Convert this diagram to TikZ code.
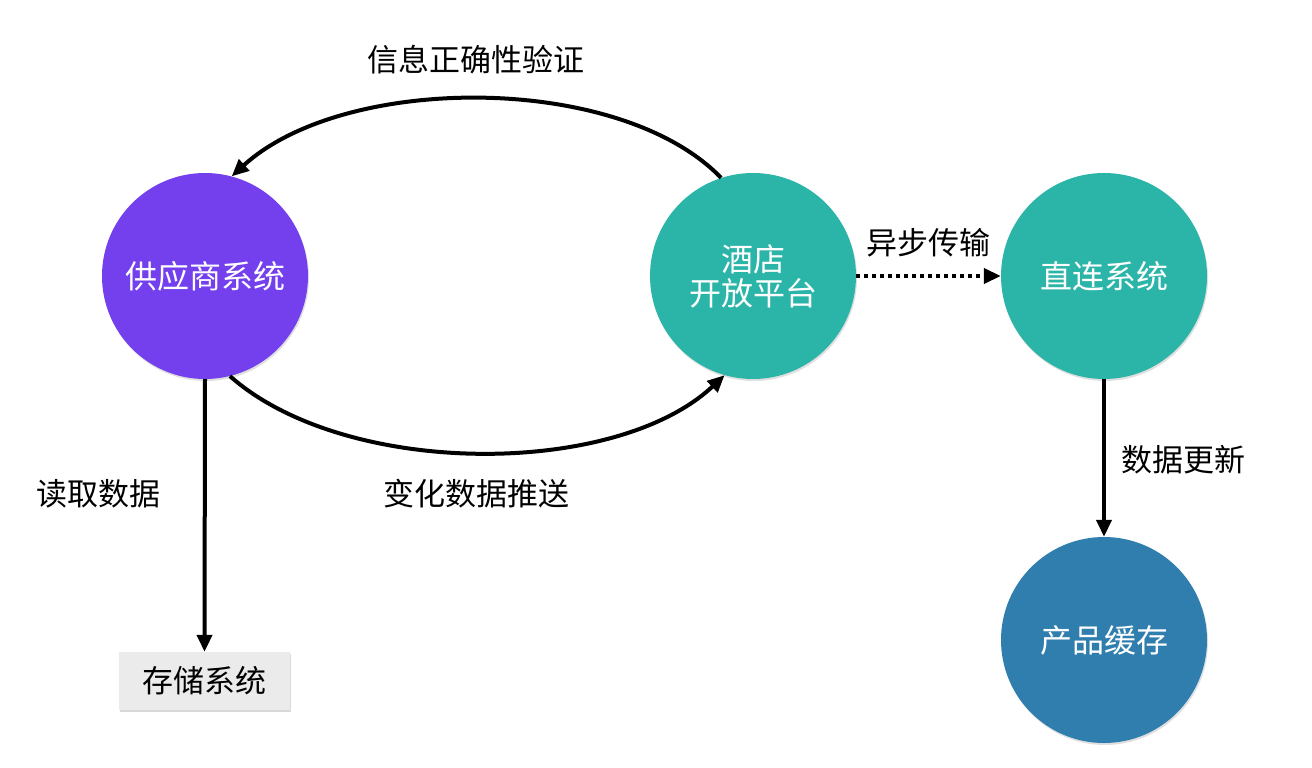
\documentclass[tikz,border=0pt]{standalone}
\usepackage{fontspec}
\setmainfont{Noto Sans CJK SC}
\usetikzlibrary{arrows.meta,shadows}
\definecolor{cpurple}{HTML}{7440EE}
\definecolor{cteal}{HTML}{2BB5A8}
\definecolor{cblue}{HTML}{2F7EAE}
\definecolor{cbox}{HTML}{EBEBEB}
\tikzset{
  sysnode/.style={circle,minimum size=206pt,inner sep=0pt,text=white,
    font=\fontsize{32}{34}\selectfont,align=center,
    drop shadow={shadow xshift=1pt,shadow yshift=-2pt,opacity=0.25}},
  lbl/.style={font=\fontsize{31}{34}\selectfont,text=black},
  conn/.style={line width=4pt,-{Triangle[length=17pt,width=15pt]}},
}
\begin{document}
\begin{tikzpicture}[x=1pt,y=-1pt]
\useasboundingbox (0,0) rectangle (1312,768);
\node[sysnode,fill=cpurple] (sup) at (205,276) {供应商系统};
\node[sysnode,fill=cteal] (hotel) at (753,276) {酒店\\开放平台};
\node[sysnode,fill=cteal] (direct) at (1104,276) {直连系统};
\node[sysnode,fill=cblue] (cache) at (1104,640) {产品缓存};
\node[fill=cbox,minimum width=171pt,minimum height=58pt,inner sep=0pt,
  font=\fontsize{31}{34}\selectfont,
  drop shadow={shadow xshift=1pt,shadow yshift=-2pt,opacity=0.3}] (store) at (204.5,681) {存储系统};

\draw[conn] (hotel.108) .. controls (620,73) and (345,73) .. (sup.75);
\draw[conn] (sup.-76) .. controls (345,478) and (615,478) .. (hotel.-106);
\draw[conn] (sup.south) -- (store.north);
\draw[conn,dash pattern=on 4pt off 4pt] (hotel.east) -- (direct.west);
\draw[conn] (direct.south) -- (cache.north);

\node[lbl] (l1) at (476,60) {信息正确性验证};
\node[lbl] (l2) at (476,494) {变化数据推送};
\node[lbl] (l3) at (98,494) {读取数据};
\node[lbl] (l4) at (928,243) {异步传输};
\node[lbl] (l5) at (1183,460) {数据更新};
\end{tikzpicture}
\end{document}
